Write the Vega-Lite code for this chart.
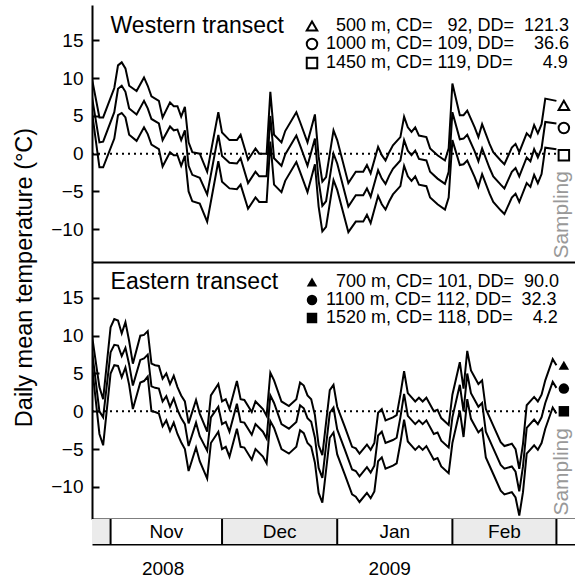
{
"$schema": "https://vega.github.io/schema/vega-lite/v6.json",
"padding": {"left": 12, "top": 5, "right": 0, "bottom": 0},
"spacing": 0,
"bounds": "flush",
"config": {
  "font": "Liberation Sans",
  "view": {"stroke": null},
  "concat": {"spacing": 0},
  "axis": {"labelColor": "black", "titleColor": "black", "domainColor": "black", "tickColor": "black", "labelFont": "Liberation Sans", "titleFont": "Liberation Sans", "grid": false, "titleFontWeight": "normal"},
  "legend": {"labelFont": "Liberation Sans", "labelColor": "black"},
  "text": {"font": "Liberation Sans"}
},
"datasets": {
  "west": [
{"date":"2008-10-27","site":"500","t":9.9},{"date":"2008-10-27","site":"1000","t":7.5},{"date":"2008-10-27","site":"1450","t":5.5},
{"date":"2008-10-29","site":"500","t":4.8},{"date":"2008-10-29","site":"1000","t":1.5},{"date":"2008-10-29","site":"1450","t":-1.8},
{"date":"2008-10-30","site":"500","t":4.8},{"date":"2008-10-30","site":"1000","t":1.6},{"date":"2008-10-30","site":"1450","t":-1.8},
{"date":"2008-11-02","site":"500","t":8.7},{"date":"2008-11-02","site":"1000","t":5.5},{"date":"2008-11-02","site":"1450","t":2.0},
{"date":"2008-11-03","site":"500","t":11.7},{"date":"2008-11-03","site":"1000","t":8.6},{"date":"2008-11-03","site":"1450","t":5.1},
{"date":"2008-11-04","site":"500","t":12.1},{"date":"2008-11-04","site":"1000","t":9.0},{"date":"2008-11-04","site":"1450","t":5.4},
{"date":"2008-11-05","site":"500","t":11.3},{"date":"2008-11-05","site":"1000","t":8.2},{"date":"2008-11-05","site":"1450","t":4.8},
{"date":"2008-11-06","site":"500","t":9.0},{"date":"2008-11-06","site":"1000","t":6.0},{"date":"2008-11-06","site":"1450","t":2.5},
{"date":"2008-11-08","site":"500","t":8.3},{"date":"2008-11-08","site":"1000","t":5.2},{"date":"2008-11-08","site":"1450","t":1.7},
{"date":"2008-11-10","site":"500","t":10.1},{"date":"2008-11-10","site":"1000","t":7.0},{"date":"2008-11-10","site":"1450","t":3.5},
{"date":"2008-11-11","site":"500","t":9.0},{"date":"2008-11-11","site":"1000","t":6.0},{"date":"2008-11-11","site":"1450","t":2.6},
{"date":"2008-11-12","site":"500","t":7.6},{"date":"2008-11-12","site":"1000","t":4.6},{"date":"2008-11-12","site":"1450","t":1.2},
{"date":"2008-11-14","site":"500","t":7.0},{"date":"2008-11-14","site":"1000","t":4.0},{"date":"2008-11-14","site":"1450","t":0.6},
{"date":"2008-11-15","site":"500","t":4.8},{"date":"2008-11-15","site":"1000","t":1.8},{"date":"2008-11-15","site":"1450","t":-1.7},
{"date":"2008-11-17","site":"500","t":6.8},{"date":"2008-11-17","site":"1000","t":3.6},{"date":"2008-11-17","site":"1450","t":0.2},
{"date":"2008-11-18","site":"500","t":6.3},{"date":"2008-11-18","site":"1000","t":3.1},{"date":"2008-11-18","site":"1450","t":-0.2},
{"date":"2008-11-19","site":"500","t":6.3},{"date":"2008-11-19","site":"1000","t":3.2},{"date":"2008-11-19","site":"1450","t":-0.2},
{"date":"2008-11-20","site":"500","t":4.9},{"date":"2008-11-20","site":"1000","t":1.8},{"date":"2008-11-20","site":"1450","t":-1.6},
{"date":"2008-11-21","site":"500","t":6.2},{"date":"2008-11-21","site":"1000","t":3.1},{"date":"2008-11-21","site":"1450","t":-0.3},
{"date":"2008-11-22","site":"500","t":1.5},{"date":"2008-11-22","site":"1000","t":-1.6},{"date":"2008-11-22","site":"1450","t":-5.0},
{"date":"2008-11-23","site":"500","t":0.2},{"date":"2008-11-23","site":"1000","t":-2.8},{"date":"2008-11-23","site":"1450","t":-6.3},
{"date":"2008-11-25","site":"500","t":0.0},{"date":"2008-11-25","site":"1000","t":-3.2},{"date":"2008-11-25","site":"1450","t":-6.6},
{"date":"2008-11-27","site":"500","t":-2.4},{"date":"2008-11-27","site":"1000","t":-5.4},{"date":"2008-11-27","site":"1450","t":-9.0},
{"date":"2008-11-30","site":"500","t":5.5},{"date":"2008-11-30","site":"1000","t":2.5},{"date":"2008-11-30","site":"1450","t":-1.0},
{"date":"2008-12-01","site":"500","t":2.8},{"date":"2008-12-01","site":"1000","t":-0.3},{"date":"2008-12-01","site":"1450","t":-3.7},
{"date":"2008-12-03","site":"500","t":1.8},{"date":"2008-12-03","site":"1000","t":-1.2},{"date":"2008-12-03","site":"1450","t":-4.6},
{"date":"2008-12-05","site":"500","t":1.8},{"date":"2008-12-05","site":"1000","t":-1.3},{"date":"2008-12-05","site":"1450","t":-4.7},
{"date":"2008-12-06","site":"500","t":2.5},{"date":"2008-12-06","site":"1000","t":-0.6},{"date":"2008-12-06","site":"1450","t":-4.1},
{"date":"2008-12-08","site":"500","t":-0.8},{"date":"2008-12-08","site":"1000","t":-3.9},{"date":"2008-12-08","site":"1450","t":-7.3},
{"date":"2008-12-10","site":"500","t":0.7},{"date":"2008-12-10","site":"1000","t":-2.4},{"date":"2008-12-10","site":"1450","t":-5.8},
{"date":"2008-12-11","site":"500","t":0.0},{"date":"2008-12-11","site":"1000","t":-3.0},{"date":"2008-12-11","site":"1450","t":-6.4},
{"date":"2008-12-13","site":"500","t":0.0},{"date":"2008-12-13","site":"1000","t":-3.0},{"date":"2008-12-13","site":"1450","t":-6.4},
{"date":"2008-12-14","site":"500","t":8.2},{"date":"2008-12-14","site":"1000","t":5.0},{"date":"2008-12-14","site":"1450","t":1.6},
{"date":"2008-12-15","site":"500","t":2.5},{"date":"2008-12-15","site":"1000","t":-0.6},{"date":"2008-12-15","site":"1450","t":-4.1},
{"date":"2008-12-17","site":"500","t":1.5},{"date":"2008-12-17","site":"1000","t":-1.6},{"date":"2008-12-17","site":"1450","t":-5.1},
{"date":"2008-12-18","site":"500","t":3.0},{"date":"2008-12-18","site":"1000","t":-0.1},{"date":"2008-12-18","site":"1450","t":-3.6},
{"date":"2008-12-21","site":"500","t":5.5},{"date":"2008-12-21","site":"1000","t":2.4},{"date":"2008-12-21","site":"1450","t":-1.1},
{"date":"2008-12-22","site":"500","t":4.2},{"date":"2008-12-22","site":"1000","t":1.1},{"date":"2008-12-22","site":"1450","t":-2.4},
{"date":"2008-12-24","site":"500","t":1.5},{"date":"2008-12-24","site":"1000","t":-1.6},{"date":"2008-12-24","site":"1450","t":-5.1},
{"date":"2008-12-26","site":"500","t":5.2},{"date":"2008-12-26","site":"1000","t":2.0},{"date":"2008-12-26","site":"1450","t":-1.4},
{"date":"2008-12-27","site":"500","t":-0.4},{"date":"2008-12-27","site":"1000","t":-3.6},{"date":"2008-12-27","site":"1450","t":-7.0},
{"date":"2008-12-28","site":"500","t":-3.7},{"date":"2008-12-28","site":"1000","t":-6.9},{"date":"2008-12-28","site":"1450","t":-10.3},
{"date":"2008-12-29","site":"500","t":-3.1},{"date":"2008-12-29","site":"1000","t":-6.3},{"date":"2008-12-29","site":"1450","t":-9.7},
{"date":"2008-12-31","site":"500","t":3.1},{"date":"2008-12-31","site":"1000","t":0.0},{"date":"2008-12-31","site":"1450","t":-3.5},
{"date":"2009-01-01","site":"500","t":1.8},{"date":"2009-01-01","site":"1000","t":-1.3},{"date":"2009-01-01","site":"1450","t":-4.8},
{"date":"2009-01-04","site":"500","t":-3.9},{"date":"2009-01-04","site":"1000","t":-7.0},{"date":"2009-01-04","site":"1450","t":-10.4},
{"date":"2009-01-06","site":"500","t":-2.4},{"date":"2009-01-06","site":"1000","t":-5.5},{"date":"2009-01-06","site":"1450","t":-9.0},
{"date":"2009-01-08","site":"500","t":-2.4},{"date":"2009-01-08","site":"1000","t":-5.5},{"date":"2009-01-08","site":"1450","t":-9.0},
{"date":"2009-01-09","site":"500","t":-1.5},{"date":"2009-01-09","site":"1000","t":-4.6},{"date":"2009-01-09","site":"1450","t":-8.1},
{"date":"2009-01-10","site":"500","t":-2.6},{"date":"2009-01-10","site":"1000","t":-5.7},{"date":"2009-01-10","site":"1450","t":-9.2},
{"date":"2009-01-12","site":"500","t":0.9},{"date":"2009-01-12","site":"1000","t":-2.2},{"date":"2009-01-12","site":"1450","t":-5.6},
{"date":"2009-01-13","site":"500","t":-0.2},{"date":"2009-01-13","site":"1000","t":-3.3},{"date":"2009-01-13","site":"1450","t":-6.7},
{"date":"2009-01-14","site":"500","t":-0.9},{"date":"2009-01-14","site":"1000","t":-4.0},{"date":"2009-01-14","site":"1450","t":-7.4},
{"date":"2009-01-15","site":"500","t":0.2},{"date":"2009-01-15","site":"1000","t":-2.9},{"date":"2009-01-15","site":"1450","t":-6.3},
{"date":"2009-01-16","site":"500","t":1.1},{"date":"2009-01-16","site":"1000","t":-2.0},{"date":"2009-01-16","site":"1450","t":-5.4},
{"date":"2009-01-18","site":"500","t":2.2},{"date":"2009-01-18","site":"1000","t":-0.9},{"date":"2009-01-18","site":"1450","t":-4.3},
{"date":"2009-01-19","site":"500","t":4.9},{"date":"2009-01-19","site":"1000","t":1.8},{"date":"2009-01-19","site":"1450","t":-1.6},
{"date":"2009-01-20","site":"500","t":3.5},{"date":"2009-01-20","site":"1000","t":0.4},{"date":"2009-01-20","site":"1450","t":-3.0},
{"date":"2009-01-21","site":"500","t":2.9},{"date":"2009-01-21","site":"1000","t":-0.2},{"date":"2009-01-21","site":"1450","t":-3.6},
{"date":"2009-01-22","site":"500","t":3.5},{"date":"2009-01-22","site":"1000","t":0.4},{"date":"2009-01-22","site":"1450","t":-3.0},
{"date":"2009-01-23","site":"500","t":2.4},{"date":"2009-01-23","site":"1000","t":-0.7},{"date":"2009-01-23","site":"1450","t":-4.1},
{"date":"2009-01-25","site":"500","t":2.2},{"date":"2009-01-25","site":"1000","t":-0.9},{"date":"2009-01-25","site":"1450","t":-4.3},
{"date":"2009-01-26","site":"500","t":0.7},{"date":"2009-01-26","site":"1000","t":-2.4},{"date":"2009-01-26","site":"1450","t":-5.8},
{"date":"2009-01-28","site":"500","t":-0.2},{"date":"2009-01-28","site":"1000","t":-3.3},{"date":"2009-01-28","site":"1450","t":-6.7},
{"date":"2009-01-30","site":"500","t":-0.9},{"date":"2009-01-30","site":"1000","t":-4.0},{"date":"2009-01-30","site":"1450","t":-7.4},
{"date":"2009-01-31","site":"500","t":0.7},{"date":"2009-01-31","site":"1000","t":-2.4},{"date":"2009-01-31","site":"1450","t":-5.8},
{"date":"2009-02-01","site":"500","t":9.3},{"date":"2009-02-01","site":"1000","t":5.5},{"date":"2009-02-01","site":"1450","t":1.8},
{"date":"2009-02-03","site":"500","t":5.1},{"date":"2009-02-03","site":"1000","t":1.9},{"date":"2009-02-03","site":"1450","t":-1.5},
{"date":"2009-02-04","site":"500","t":5.1},{"date":"2009-02-04","site":"1000","t":2.0},{"date":"2009-02-04","site":"1450","t":-1.4},
{"date":"2009-02-05","site":"500","t":5.7},{"date":"2009-02-05","site":"1000","t":2.5},{"date":"2009-02-05","site":"1450","t":-0.9},
{"date":"2009-02-07","site":"500","t":3.5},{"date":"2009-02-07","site":"1000","t":0.3},{"date":"2009-02-07","site":"1450","t":-3.1},
{"date":"2009-02-08","site":"500","t":2.2},{"date":"2009-02-08","site":"1000","t":-1.0},{"date":"2009-02-08","site":"1450","t":-4.4},
{"date":"2009-02-09","site":"500","t":3.9},{"date":"2009-02-09","site":"1000","t":0.7},{"date":"2009-02-09","site":"1450","t":-2.7},
{"date":"2009-02-11","site":"500","t":1.3},{"date":"2009-02-11","site":"1000","t":-1.9},{"date":"2009-02-11","site":"1450","t":-5.3},
{"date":"2009-02-12","site":"500","t":0.2},{"date":"2009-02-12","site":"1000","t":-3.0},{"date":"2009-02-12","site":"1450","t":-6.4},
{"date":"2009-02-14","site":"500","t":-0.9},{"date":"2009-02-14","site":"1000","t":-4.1},{"date":"2009-02-14","site":"1450","t":-7.5},
{"date":"2009-02-15","site":"500","t":-1.4},{"date":"2009-02-15","site":"1000","t":-4.6},{"date":"2009-02-15","site":"1450","t":-8.0},
{"date":"2009-02-17","site":"500","t":0.8},{"date":"2009-02-17","site":"1000","t":-2.4},{"date":"2009-02-17","site":"1450","t":-5.8},
{"date":"2009-02-18","site":"500","t":1.3},{"date":"2009-02-18","site":"1000","t":-1.9},{"date":"2009-02-18","site":"1450","t":-5.3},
{"date":"2009-02-19","site":"500","t":0.2},{"date":"2009-02-19","site":"1000","t":-3.0},{"date":"2009-02-19","site":"1450","t":-6.4},
{"date":"2009-02-21","site":"500","t":2.7},{"date":"2009-02-21","site":"1000","t":-0.5},{"date":"2009-02-21","site":"1450","t":-3.9},
{"date":"2009-02-22","site":"500","t":2.2},{"date":"2009-02-22","site":"1000","t":-1.0},{"date":"2009-02-22","site":"1450","t":-4.4},
{"date":"2009-02-23","site":"500","t":3.8},{"date":"2009-02-23","site":"1000","t":0.6},{"date":"2009-02-23","site":"1450","t":-2.8},
{"date":"2009-02-24","site":"500","t":2.7},{"date":"2009-02-24","site":"1000","t":-0.5},{"date":"2009-02-24","site":"1450","t":-3.9},
{"date":"2009-02-25","site":"500","t":3.9},{"date":"2009-02-25","site":"1000","t":0.7},{"date":"2009-02-25","site":"1450","t":-2.7},
{"date":"2009-02-26","site":"500","t":7.3},{"date":"2009-02-26","site":"1000","t":4.2},{"date":"2009-02-26","site":"1450","t":0.8},
{"date":"2009-03-01","site":"500","t":7.0},{"date":"2009-03-01","site":"1000","t":4.0},{"date":"2009-03-01","site":"1450","t":0.6}
  ],
  "east": [
{"date":"2008-10-27","site":"700","t":10.0},{"date":"2008-10-27","site":"1100","t":8.0},{"date":"2008-10-27","site":"1520","t":6.0},
{"date":"2008-10-29","site":"700","t":3.2},{"date":"2008-10-29","site":"1100","t":0.0},{"date":"2008-10-29","site":"1520","t":-3.0},
{"date":"2008-10-30","site":"700","t":1.6},{"date":"2008-10-30","site":"1100","t":-0.8},{"date":"2008-10-30","site":"1520","t":-4.5},
{"date":"2008-11-01","site":"700","t":11.1},{"date":"2008-11-01","site":"1100","t":7.8},{"date":"2008-11-01","site":"1520","t":5.0},
{"date":"2008-11-02","site":"700","t":12.2},{"date":"2008-11-02","site":"1100","t":8.8},{"date":"2008-11-02","site":"1520","t":6.1},
{"date":"2008-11-03","site":"700","t":12.0},{"date":"2008-11-03","site":"1100","t":8.7},{"date":"2008-11-03","site":"1520","t":6.0},
{"date":"2008-11-04","site":"700","t":10.3},{"date":"2008-11-04","site":"1100","t":7.3},{"date":"2008-11-04","site":"1520","t":4.5},
{"date":"2008-11-05","site":"700","t":11.8},{"date":"2008-11-05","site":"1100","t":8.4},{"date":"2008-11-05","site":"1520","t":5.8},
{"date":"2008-11-06","site":"700","t":9.3},{"date":"2008-11-06","site":"1100","t":6.2},{"date":"2008-11-06","site":"1520","t":3.5},
{"date":"2008-11-07","site":"700","t":6.3},{"date":"2008-11-07","site":"1100","t":3.4},{"date":"2008-11-07","site":"1520","t":0.3},
{"date":"2008-11-09","site":"700","t":10.0},{"date":"2008-11-09","site":"1100","t":6.8},{"date":"2008-11-09","site":"1520","t":3.8},
{"date":"2008-11-10","site":"700","t":10.1},{"date":"2008-11-10","site":"1100","t":7.0},{"date":"2008-11-10","site":"1520","t":4.0},
{"date":"2008-11-11","site":"700","t":10.6},{"date":"2008-11-11","site":"1100","t":7.5},{"date":"2008-11-11","site":"1520","t":4.6},
{"date":"2008-11-12","site":"700","t":6.3},{"date":"2008-11-12","site":"1100","t":3.3},{"date":"2008-11-12","site":"1520","t":0.0},
{"date":"2008-11-13","site":"700","t":6.1},{"date":"2008-11-13","site":"1100","t":3.1},{"date":"2008-11-13","site":"1520","t":-0.1},
{"date":"2008-11-14","site":"700","t":6.0},{"date":"2008-11-14","site":"1100","t":3.0},{"date":"2008-11-14","site":"1520","t":-0.3},
{"date":"2008-11-15","site":"700","t":4.3},{"date":"2008-11-15","site":"1100","t":1.3},{"date":"2008-11-15","site":"1520","t":-2.0},
{"date":"2008-11-16","site":"700","t":5.0},{"date":"2008-11-16","site":"1100","t":2.0},{"date":"2008-11-16","site":"1520","t":-1.2},
{"date":"2008-11-17","site":"700","t":3.6},{"date":"2008-11-17","site":"1100","t":0.6},{"date":"2008-11-17","site":"1520","t":-2.6},
{"date":"2008-11-18","site":"700","t":4.7},{"date":"2008-11-18","site":"1100","t":1.7},{"date":"2008-11-18","site":"1520","t":-1.5},
{"date":"2008-11-19","site":"700","t":3.2},{"date":"2008-11-19","site":"1100","t":0.2},{"date":"2008-11-19","site":"1520","t":-3.0},
{"date":"2008-11-20","site":"700","t":2.1},{"date":"2008-11-20","site":"1100","t":-0.9},{"date":"2008-11-20","site":"1520","t":-4.1},
{"date":"2008-11-21","site":"700","t":1.3},{"date":"2008-11-21","site":"1100","t":-1.7},{"date":"2008-11-21","site":"1520","t":-5.0},
{"date":"2008-11-22","site":"700","t":-1.6},{"date":"2008-11-22","site":"1100","t":-4.6},{"date":"2008-11-22","site":"1520","t":-7.9},
{"date":"2008-11-24","site":"700","t":1.5},{"date":"2008-11-24","site":"1100","t":-1.5},{"date":"2008-11-24","site":"1520","t":-4.8},
{"date":"2008-11-25","site":"700","t":-0.3},{"date":"2008-11-25","site":"1100","t":-3.3},{"date":"2008-11-25","site":"1520","t":-6.6},
{"date":"2008-11-27","site":"700","t":-2.7},{"date":"2008-11-27","site":"1100","t":-5.2},{"date":"2008-11-27","site":"1520","t":-8.9},
{"date":"2008-11-28","site":"700","t":2.1},{"date":"2008-11-28","site":"1100","t":-0.8},{"date":"2008-11-28","site":"1520","t":-4.2},
{"date":"2008-11-30","site":"700","t":3.6},{"date":"2008-11-30","site":"1100","t":0.6},{"date":"2008-11-30","site":"1520","t":-2.7},
{"date":"2008-12-01","site":"700","t":1.3},{"date":"2008-12-01","site":"1100","t":-1.7},{"date":"2008-12-01","site":"1520","t":-5.0},
{"date":"2008-12-02","site":"700","t":1.6},{"date":"2008-12-02","site":"1100","t":-1.4},{"date":"2008-12-02","site":"1520","t":-4.7},
{"date":"2008-12-03","site":"700","t":0.3},{"date":"2008-12-03","site":"1100","t":-2.7},{"date":"2008-12-03","site":"1520","t":-6.0},
{"date":"2008-12-05","site":"700","t":4.0},{"date":"2008-12-05","site":"1100","t":1.0},{"date":"2008-12-05","site":"1520","t":-2.3},
{"date":"2008-12-06","site":"700","t":1.6},{"date":"2008-12-06","site":"1100","t":-1.4},{"date":"2008-12-06","site":"1520","t":-4.7},
{"date":"2008-12-07","site":"700","t":1.5},{"date":"2008-12-07","site":"1100","t":-1.5},{"date":"2008-12-07","site":"1520","t":-4.8},
{"date":"2008-12-09","site":"700","t":-0.1},{"date":"2008-12-09","site":"1100","t":-3.1},{"date":"2008-12-09","site":"1520","t":-6.4},
{"date":"2008-12-10","site":"700","t":1.3},{"date":"2008-12-10","site":"1100","t":-1.7},{"date":"2008-12-10","site":"1520","t":-5.0},
{"date":"2008-12-12","site":"700","t":0.3},{"date":"2008-12-12","site":"1100","t":-2.7},{"date":"2008-12-12","site":"1520","t":-6.0},
{"date":"2008-12-13","site":"700","t":-0.6},{"date":"2008-12-13","site":"1100","t":-3.6},{"date":"2008-12-13","site":"1520","t":-6.9},
{"date":"2008-12-14","site":"700","t":5.1},{"date":"2008-12-14","site":"1100","t":2.1},{"date":"2008-12-14","site":"1520","t":-1.3},
{"date":"2008-12-15","site":"700","t":4.1},{"date":"2008-12-15","site":"1100","t":1.1},{"date":"2008-12-15","site":"1520","t":-2.2},
{"date":"2008-12-17","site":"700","t":1.3},{"date":"2008-12-17","site":"1100","t":-1.7},{"date":"2008-12-17","site":"1520","t":-5.0},
{"date":"2008-12-19","site":"700","t":0.7},{"date":"2008-12-19","site":"1100","t":-2.3},{"date":"2008-12-19","site":"1520","t":-5.6},
{"date":"2008-12-21","site":"700","t":1.6},{"date":"2008-12-21","site":"1100","t":-1.4},{"date":"2008-12-21","site":"1520","t":-4.7},
{"date":"2008-12-22","site":"700","t":3.8},{"date":"2008-12-22","site":"1100","t":0.8},{"date":"2008-12-22","site":"1520","t":-2.5},
{"date":"2008-12-23","site":"700","t":3.4},{"date":"2008-12-23","site":"1100","t":0.4},{"date":"2008-12-23","site":"1520","t":-2.9},
{"date":"2008-12-24","site":"700","t":2.1},{"date":"2008-12-24","site":"1100","t":-0.9},{"date":"2008-12-24","site":"1520","t":-4.2},
{"date":"2008-12-25","site":"700","t":1.6},{"date":"2008-12-25","site":"1100","t":-1.4},{"date":"2008-12-25","site":"1520","t":-4.7},
{"date":"2008-12-26","site":"700","t":-0.5},{"date":"2008-12-26","site":"1100","t":-3.5},{"date":"2008-12-26","site":"1520","t":-6.8},
{"date":"2008-12-27","site":"700","t":-4.5},{"date":"2008-12-27","site":"1100","t":-7.5},{"date":"2008-12-27","site":"1520","t":-10.8},
{"date":"2008-12-28","site":"700","t":-5.8},{"date":"2008-12-28","site":"1100","t":-8.8},{"date":"2008-12-28","site":"1520","t":-12.1},
{"date":"2008-12-30","site":"700","t":2.8},{"date":"2008-12-30","site":"1100","t":-0.2},{"date":"2008-12-30","site":"1520","t":-3.5},
{"date":"2008-12-31","site":"700","t":3.5},{"date":"2008-12-31","site":"1100","t":0.5},{"date":"2008-12-31","site":"1520","t":-2.8},
{"date":"2009-01-01","site":"700","t":0.6},{"date":"2009-01-01","site":"1100","t":-2.4},{"date":"2009-01-01","site":"1520","t":-5.7},
{"date":"2009-01-03","site":"700","t":-2.0},{"date":"2009-01-03","site":"1100","t":-5.0},{"date":"2009-01-03","site":"1520","t":-8.3},
{"date":"2009-01-05","site":"700","t":-4.7},{"date":"2009-01-05","site":"1100","t":-7.7},{"date":"2009-01-05","site":"1520","t":-11.0},
{"date":"2009-01-06","site":"700","t":-4.9},{"date":"2009-01-06","site":"1100","t":-7.9},{"date":"2009-01-06","site":"1520","t":-11.3},
{"date":"2009-01-07","site":"700","t":-5.6},{"date":"2009-01-07","site":"1100","t":-8.6},{"date":"2009-01-07","site":"1520","t":-12.0},
{"date":"2009-01-09","site":"700","t":-4.4},{"date":"2009-01-09","site":"1100","t":-7.4},{"date":"2009-01-09","site":"1520","t":-10.8},
{"date":"2009-01-10","site":"700","t":-5.1},{"date":"2009-01-10","site":"1100","t":-8.1},{"date":"2009-01-10","site":"1520","t":-11.5},
{"date":"2009-01-11","site":"700","t":-4.2},{"date":"2009-01-11","site":"1100","t":-7.2},{"date":"2009-01-11","site":"1520","t":-10.6},
{"date":"2009-01-12","site":"700","t":-0.2},{"date":"2009-01-12","site":"1100","t":-3.2},{"date":"2009-01-12","site":"1520","t":-6.6},
{"date":"2009-01-13","site":"700","t":0.3},{"date":"2009-01-13","site":"1100","t":-2.7},{"date":"2009-01-13","site":"1520","t":-6.1},
{"date":"2009-01-14","site":"700","t":-1.2},{"date":"2009-01-14","site":"1100","t":-4.2},{"date":"2009-01-14","site":"1520","t":-7.6},
{"date":"2009-01-16","site":"700","t":-0.8},{"date":"2009-01-16","site":"1100","t":-3.8},{"date":"2009-01-16","site":"1520","t":-7.2},
{"date":"2009-01-17","site":"700","t":-0.5},{"date":"2009-01-17","site":"1100","t":-3.5},{"date":"2009-01-17","site":"1520","t":-6.9},
{"date":"2009-01-18","site":"700","t":2.2},{"date":"2009-01-18","site":"1100","t":-0.8},{"date":"2009-01-18","site":"1520","t":-4.2},
{"date":"2009-01-19","site":"700","t":5.3},{"date":"2009-01-19","site":"1100","t":2.3},{"date":"2009-01-19","site":"1520","t":-1.1},
{"date":"2009-01-20","site":"700","t":2.4},{"date":"2009-01-20","site":"1100","t":-0.6},{"date":"2009-01-20","site":"1520","t":-4.0},
{"date":"2009-01-22","site":"700","t":1.3},{"date":"2009-01-22","site":"1100","t":-1.7},{"date":"2009-01-22","site":"1520","t":-5.1},
{"date":"2009-01-23","site":"700","t":1.8},{"date":"2009-01-23","site":"1100","t":-1.2},{"date":"2009-01-23","site":"1520","t":-4.6},
{"date":"2009-01-24","site":"700","t":1.3},{"date":"2009-01-24","site":"1100","t":-1.7},{"date":"2009-01-24","site":"1520","t":-5.1},
{"date":"2009-01-25","site":"700","t":1.8},{"date":"2009-01-25","site":"1100","t":-1.2},{"date":"2009-01-25","site":"1520","t":-4.6},
{"date":"2009-01-27","site":"700","t":0.0},{"date":"2009-01-27","site":"1100","t":-3.0},{"date":"2009-01-27","site":"1520","t":-6.4},
{"date":"2009-01-28","site":"700","t":0.2},{"date":"2009-01-28","site":"1100","t":-2.8},{"date":"2009-01-28","site":"1520","t":-6.2},
{"date":"2009-01-29","site":"700","t":-0.9},{"date":"2009-01-29","site":"1100","t":-3.9},{"date":"2009-01-29","site":"1520","t":-7.3},
{"date":"2009-01-31","site":"700","t":-1.8},{"date":"2009-01-31","site":"1100","t":-4.8},{"date":"2009-01-31","site":"1520","t":-8.2},
{"date":"2009-02-01","site":"700","t":2.2},{"date":"2009-02-01","site":"1100","t":-0.8},{"date":"2009-02-01","site":"1520","t":-4.2},
{"date":"2009-02-03","site":"700","t":6.5},{"date":"2009-02-03","site":"1100","t":3.5},{"date":"2009-02-03","site":"1520","t":0.1},
{"date":"2009-02-04","site":"700","t":3.0},{"date":"2009-02-04","site":"1100","t":0.0},{"date":"2009-02-04","site":"1520","t":-3.4},
{"date":"2009-02-05","site":"700","t":8.0},{"date":"2009-02-05","site":"1100","t":5.0},{"date":"2009-02-05","site":"1520","t":1.6},
{"date":"2009-02-06","site":"700","t":5.4},{"date":"2009-02-06","site":"1100","t":2.4},{"date":"2009-02-06","site":"1520","t":-1.0},
{"date":"2009-02-08","site":"700","t":3.6},{"date":"2009-02-08","site":"1100","t":0.6},{"date":"2009-02-08","site":"1520","t":-2.8},
{"date":"2009-02-09","site":"700","t":4.1},{"date":"2009-02-09","site":"1100","t":1.1},{"date":"2009-02-09","site":"1520","t":-2.3},
{"date":"2009-02-10","site":"700","t":0.3},{"date":"2009-02-10","site":"1100","t":-2.7},{"date":"2009-02-10","site":"1520","t":-6.1},
{"date":"2009-02-12","site":"700","t":-1.9},{"date":"2009-02-12","site":"1100","t":-4.9},{"date":"2009-02-12","site":"1520","t":-8.3},
{"date":"2009-02-14","site":"700","t":-4.1},{"date":"2009-02-14","site":"1100","t":-7.1},{"date":"2009-02-14","site":"1520","t":-10.5},
{"date":"2009-02-15","site":"700","t":-4.6},{"date":"2009-02-15","site":"1100","t":-7.6},{"date":"2009-02-15","site":"1520","t":-11.0},
{"date":"2009-02-17","site":"700","t":-4.3},{"date":"2009-02-17","site":"1100","t":-7.3},{"date":"2009-02-17","site":"1520","t":-10.7},
{"date":"2009-02-18","site":"700","t":-5.0},{"date":"2009-02-18","site":"1100","t":-8.0},{"date":"2009-02-18","site":"1520","t":-11.4},
{"date":"2009-02-19","site":"700","t":-7.6},{"date":"2009-02-19","site":"1100","t":-10.6},{"date":"2009-02-19","site":"1520","t":-13.8},
{"date":"2009-02-20","site":"700","t":-4.3},{"date":"2009-02-20","site":"1100","t":-7.3},{"date":"2009-02-20","site":"1520","t":-10.7},
{"date":"2009-02-21","site":"700","t":0.8},{"date":"2009-02-21","site":"1100","t":-2.2},{"date":"2009-02-21","site":"1520","t":-5.6},
{"date":"2009-02-23","site":"700","t":1.9},{"date":"2009-02-23","site":"1100","t":-1.1},{"date":"2009-02-23","site":"1520","t":-4.5},
{"date":"2009-02-24","site":"700","t":1.3},{"date":"2009-02-24","site":"1100","t":-1.7},{"date":"2009-02-24","site":"1520","t":-5.1},
{"date":"2009-02-25","site":"700","t":2.2},{"date":"2009-02-25","site":"1100","t":-0.8},{"date":"2009-02-25","site":"1520","t":-4.2},
{"date":"2009-02-26","site":"700","t":4.1},{"date":"2009-02-26","site":"1100","t":1.1},{"date":"2009-02-26","site":"1520","t":-2.3},
{"date":"2009-02-28","site":"700","t":6.9},{"date":"2009-02-28","site":"1100","t":3.9},{"date":"2009-02-28","site":"1520","t":0.5},
{"date":"2009-03-01","site":"700","t":6.1},{"date":"2009-03-01","site":"1100","t":3.1},{"date":"2009-03-01","site":"1520","t":-0.3}
  ],
  "wmark": [
    {"date":"2009-03-03","label":"\u200b\u00a0\u00a0500 m, CD= \u00a0\u00a092, DD= \u00a0121.3","t":6.4},
    {"date":"2009-03-03","label":"1000 m, CD= 109, DD= \u00a0\u00a0\u00a036.6","t":3.4},
    {"date":"2009-03-03","label":"1450 m, CD= 119, DD= \u00a0\u00a0\u00a0\u00a0\u00a04.9","t":-0.2}
  ],
  "emark": [
    {"date":"2009-03-03","label":"\u200b\u00a0\u00a0700 m, CD= 101, DD= \u00a090.0","t":6.1},
    {"date":"2009-03-03","label":"1100 m, CD= 112, DD= \u00a032.3","t":3.0},
    {"date":"2009-03-03","label":"1520 m, CD= 118, DD= \u00a0\u00a0\u00a04.2","t":0.0}
  ],
  "months": [
    {"name":"Oct","start":"2008-10-01","end":"2008-11-01"},
    {"name":"Nov","start":"2008-11-01","end":"2008-12-01"},
    {"name":"Dec","start":"2008-12-01","end":"2009-01-01"},
    {"name":"Jan","start":"2009-01-01","end":"2009-02-01"},
    {"name":"Feb","start":"2009-02-01","end":"2009-03-01"},
    {"name":"Mar","start":"2009-03-01","end":"2009-04-01"}
  ]
},
"vconcat": [
  {
    "width": 483, "height": 257,
    "layer": [
      {"data": {"name": "west"},
       "mark": {"type": "line", "color": "black", "strokeWidth": 2, "clip": true},
       "encoding": {
         "x": {"field": "date", "type": "temporal", "scale": {"domain": [{"year": 2008, "month": 10, "date": 27}, {"year": 2009, "month": 3, "date": 6}]}, "axis": {"labels": false, "ticks": false, "title": null, "domainWidth": 2}},
         "y": {"field": "t", "type": "quantitative", "scale": {"domain": [-14.35, 19.7], "nice": false, "zero": false},
               "axis": {"values": [-10, -5, 0, 5, 10, 15], "tickSize": -7, "tickWidth": 2, "domainWidth": 2, "labelFontSize": 19, "labelPadding": 16, "title": "Daily mean temperature (°C)", "titleFontSize": 23.5, "titlePadding": 14.5, "titleY": 272}},
         "detail": {"field": "site"}
       }},
      {"data": {"values": [{}]},
       "mark": {"type": "rule", "strokeDash": [2, 4], "strokeWidth": 2, "color": "black"},
       "encoding": {"y": {"datum": 0}, "x": {"datum": {"year": 2008, "month": 10, "date": 27}, "type": "temporal"}, "x2": {"datum": {"year": 2009, "month": 3, "date": 1}}}},
      {"data": {"name": "wmark"},
       "mark": {"type": "point", "filled": false, "strokeWidth": 2, "color": "black", "size": 110, "opacity": 1},
       "encoding": {
         "x": {"field": "date", "type": "temporal"},
         "y": {"field": "t", "type": "quantitative"},
         "shape": {"field": "label", "type": "nominal",
                   "scale": {"domain": ["\u200b\u00a0\u00a0500 m, CD= \u00a0\u00a092, DD= \u00a0121.3", "1000 m, CD= 109, DD= \u00a0\u00a0\u00a036.6", "1450 m, CD= 119, DD= \u00a0\u00a0\u00a0\u00a0\u00a04.9"], "range": ["triangle-up", "circle", "square"]},
                   "legend": {"title": null, "orient": "none", "legendX": 211, "legendY": 12, "labelFontSize": 18, "labelLimit": 500, "symbolSize": 110, "symbolStrokeWidth": 2, "rowPadding": -1.5, "padding": 0, "labelOffset": 5}}
       }},
      {"data": {"values": [{}]},
       "mark": {"type": "text", "align": "left", "baseline": "alphabetic", "fontSize": 23, "color": "black"},
       "encoding": {"x": {"datum": {"year": 2008, "month": 11, "date": 1}, "type": "temporal"}, "y": {"datum": 16.0}, "text": {"value": "Western transect"}}},
      {"data": {"values": [{}]},
       "mark": {"type": "text", "align": "left", "baseline": "middle", "angle": 270, "fontSize": 21, "color": "#999999"},
       "encoding": {"x": {"datum": {"year": 2009, "month": 3, "date": 2, "hours": 14}, "type": "temporal"}, "y": {"datum": -13.9}, "text": {"value": "Sampling"}}}
    ],
    "resolve": {"scale": {"shape": "independent"}}
  },
  {
    "width": 483, "height": 257,
    "layer": [
      {"data": {"name": "east"},
       "mark": {"type": "line", "color": "black", "strokeWidth": 2, "clip": true},
       "encoding": {
         "x": {"field": "date", "type": "temporal", "scale": {"domain": [{"year": 2008, "month": 10, "date": 27}, {"year": 2009, "month": 3, "date": 6}]}, "axis": {"labels": false, "ticks": false, "title": null, "domainWidth": 2}},
         "y": {"field": "t", "type": "quantitative", "scale": {"domain": [-14.25, 19.75], "nice": false, "zero": false},
               "axis": {"values": [-10, -5, 0, 5, 10, 15], "tickSize": -7, "tickWidth": 2, "domainWidth": 2, "labelFontSize": 19, "labelPadding": 16, "title": null}},
         "detail": {"field": "site"}
       }},
      {"data": {"values": [{}]},
       "mark": {"type": "rule", "strokeDash": [2, 4], "strokeWidth": 2, "color": "black"},
       "encoding": {"y": {"datum": 0}, "x": {"datum": {"year": 2008, "month": 10, "date": 27}, "type": "temporal"}, "x2": {"datum": {"year": 2009, "month": 3, "date": 1}}}},
      {"data": {"name": "emark"},
       "mark": {"type": "point", "filled": true, "color": "black", "size": 110, "opacity": 1},
       "encoding": {
         "x": {"field": "date", "type": "temporal"},
         "y": {"field": "t", "type": "quantitative"},
         "shape": {"field": "label", "type": "nominal",
                   "scale": {"domain": ["\u200b\u00a0\u00a0700 m, CD= 101, DD= \u00a090.0", "1100 m, CD= 112, DD= \u00a032.3", "1520 m, CD= 118, DD= \u00a0\u00a0\u00a04.2"], "range": ["triangle-up", "circle", "square"]},
                   "legend": {"title": null, "orient": "none", "legendX": 211, "legendY": 11, "labelFontSize": 18, "labelLimit": 500, "symbolSize": 110, "rowPadding": -1.5, "padding": 0, "labelOffset": 5}}
       }},
      {"data": {"values": [{}]},
       "mark": {"type": "text", "align": "left", "baseline": "alphabetic", "fontSize": 23, "color": "black"},
       "encoding": {"x": {"datum": {"year": 2008, "month": 11, "date": 1}, "type": "temporal"}, "y": {"datum": 16.2}, "text": {"value": "Eastern transect"}}},
      {"data": {"values": [{}]},
       "mark": {"type": "text", "align": "left", "baseline": "middle", "angle": 270, "fontSize": 21, "color": "#999999"},
       "encoding": {"x": {"datum": {"year": 2009, "month": 3, "date": 2, "hours": 14}, "type": "temporal"}, "y": {"datum": -13.8}, "text": {"value": "Sampling"}}}
    ],
    "resolve": {"scale": {"shape": "independent"}}
  },
  {
    "width": 483, "height": 25,
    "data": {"name": "months"},
    "layer": [
      {"mark": {"type": "rect", "clip": true},
       "encoding": {
         "x": {"field": "start", "type": "temporal", "scale": {"domain": [{"year": 2008, "month": 10, "date": 27}, {"year": 2009, "month": 3, "date": 6}]},
               "axis": {"values": [{"year": 2008, "month": 11, "date": 15}, {"year": 2009, "month": 1, "date": 15}], "format": "%Y", "ticks": false, "domainWidth": 2, "labelFontSize": 19, "labelPadding": 15, "title": null, "labelFlush": false}},
         "x2": {"field": "end"},
         "color": {"field": "name", "type": "nominal", "scale": {"domain": ["Oct", "Nov", "Dec", "Jan", "Feb", "Mar"], "range": ["#ebebeb", "#ffffff", "#ebebeb", "#ffffff", "#ebebeb", "#ffffff"]}, "legend": null}
       }},
      {"transform": [{"filter": "datum.name != 'Oct'"}],
       "mark": {"type": "rule", "strokeWidth": 2, "color": "black", "clip": true},
       "encoding": {"x": {"field": "start", "type": "temporal"}}},
      {"transform": [{"filter": "datum.name != 'Oct' && datum.name != 'Mar'"}],
       "mark": {"type": "text", "fontSize": 19, "baseline": "middle", "color": "black"},
       "encoding": {"x": {"field": "start", "type": "temporal", "timeUnit": "yearmonth", "bandPosition": 0.5}, "text": {"field": "name"}}}
    ]
  }
]
}
